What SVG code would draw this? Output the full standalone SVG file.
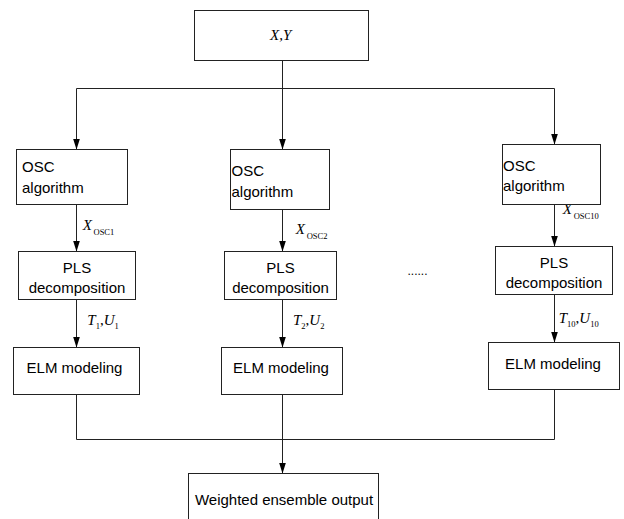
<svg xmlns="http://www.w3.org/2000/svg" width="624" height="519" viewBox="0 0 624 519">
<defs>
<style>
.box{fill:#fff;stroke:#222;stroke-width:1}
.t{font-family:"Liberation Sans",Arial,sans-serif;font-size:15px;fill:#000}
.c{text-anchor:middle}
.m{font-family:"Liberation Serif","Times New Roman",serif;font-size:15px;fill:#000}
.i{font-style:italic}
.s{font-size:8.5px}
.ln{fill:none;stroke:#222;stroke-width:1}
.ar{marker-end:url(#arr)}
</style>
<marker id="arr" markerUnits="userSpaceOnUse" markerWidth="11" markerHeight="8" refX="11" refY="3.5" orient="auto">
<path d="M0,0 L11,3.5 L0,7 z" fill="#000"/>
</marker>
</defs>
<rect width="624" height="519" fill="#fff"/>
<g id="connectors">
<line class="ln ar" x1="282.5" y1="60.5" x2="282.5" y2="149.5"/>
<polyline class="ln" points="76.5,88.5 554.5,88.5"/>
<line class="ln ar" x1="76.5" y1="88.5" x2="76.5" y2="149.5"/>
<line class="ln ar" x1="554.5" y1="88.5" x2="554.5" y2="144.5"/>
<line class="ln ar" x1="76.5" y1="204.5" x2="76.5" y2="251.5"/>
<line class="ln ar" x1="282.5" y1="209.5" x2="282.5" y2="251.5"/>
<line class="ln ar" x1="554.5" y1="204.5" x2="554.5" y2="246.5"/>
<line class="ln ar" x1="76.5" y1="299.5" x2="76.5" y2="347.5"/>
<line class="ln ar" x1="282.5" y1="299.5" x2="282.5" y2="347.5"/>
<line class="ln ar" x1="554.5" y1="294.5" x2="554.5" y2="342.5"/>
<polyline class="ln" points="76.5,394.5 76.5,439.5 554.5,439.5 554.5,389.5"/>
<line class="ln ar" x1="282.5" y1="394.5" x2="282.5" y2="473.5"/>
<text class="m" x="82.7" y="230"><tspan class="i">X</tspan></text>
<text class="m s" x="93.5" y="235">OSC1</text>
<text class="m" x="295.7" y="234"><tspan class="i">X</tspan></text>
<text class="m s" x="306.7" y="238.5">OSC2</text>
<text class="m" x="562.7" y="214"><tspan class="i">X</tspan></text>
<text class="m s" x="573.7" y="218.5">OSC10</text>
<text class="m" x="87.3" y="325"><tspan class="i">T</tspan><tspan class="s" dy="4">1</tspan><tspan dy="-4">,</tspan><tspan class="i">U</tspan><tspan class="s" dy="4">1</tspan></text>
<text class="m" x="293" y="325"><tspan class="i">T</tspan><tspan class="s" dy="4">2</tspan><tspan dy="-4">,</tspan><tspan class="i">U</tspan><tspan class="s" dy="4">2</tspan></text>
<text class="m" x="558.7" y="323.3"><tspan class="i">T</tspan><tspan class="s" dy="4">10</tspan><tspan dy="-4">,</tspan><tspan class="i">U</tspan><tspan class="s" dy="4">10</tspan></text>
</g>
<g id="input">
<rect class="box" x="194.5" y="10.5" width="174" height="50"/>
<text class="m i" x="270" y="39.5">X,Y</text>
</g>
<g id="osc1">
<rect class="box" x="16.5" y="149.5" width="111" height="55"/>
<text class="t" x="22" y="172">OSC</text>
<text class="t" x="22" y="193">algorithm</text>
</g>
<g id="osc2">
<rect class="box" x="230.5" y="149.5" width="99" height="60"/>
<text class="t" x="231.5" y="175.5">OSC</text>
<text class="t" x="231.5" y="196.5">algorithm</text>
</g>
<g id="osc10">
<rect class="box" x="502.5" y="144.5" width="98" height="60"/>
<text class="t" x="503" y="170.5">OSC</text>
<text class="t" x="503" y="190.5">algorithm</text>
</g>
<g id="pls1">
<rect class="box" x="18.5" y="251.5" width="117" height="48"/>
<text class="t c" x="77" y="272.5">PLS</text>
<text class="t c" x="77" y="292.5">decomposition</text>
</g>
<g id="pls2">
<rect class="box" x="224.5" y="251.5" width="112" height="48"/>
<text class="t c" x="280.5" y="273">PLS</text>
<text class="t c" x="280.5" y="292.5">decomposition</text>
</g>
<g id="pls10">
<rect class="box" x="495.5" y="246.5" width="117" height="48"/>
<text class="t c" x="554" y="267.5">PLS</text>
<text class="t c" x="554" y="287.5">decomposition</text>
</g>
<g id="elm1">
<rect class="box" x="13.5" y="347.5" width="126" height="47"/>
<text class="t c" x="74.5" y="372.5">ELM modeling</text>
</g>
<g id="elm2">
<rect class="box" x="221.5" y="347.5" width="121" height="47"/>
<text class="t c" x="281" y="372.5">ELM modeling</text>
</g>
<g id="elm10">
<rect class="box" x="488.5" y="342.5" width="131" height="47"/>
<text class="t c" x="553" y="369">ELM modeling</text>
</g>
<g id="dots">
<text class="t" x="407.5" y="275" style="font-size:12px">......</text>
</g>
<g id="output">
<rect class="box" x="188.5" y="473.5" width="190" height="60"/>
<text class="t c" x="284" y="505">Weighted ensemble output</text>
</g>
</svg>
